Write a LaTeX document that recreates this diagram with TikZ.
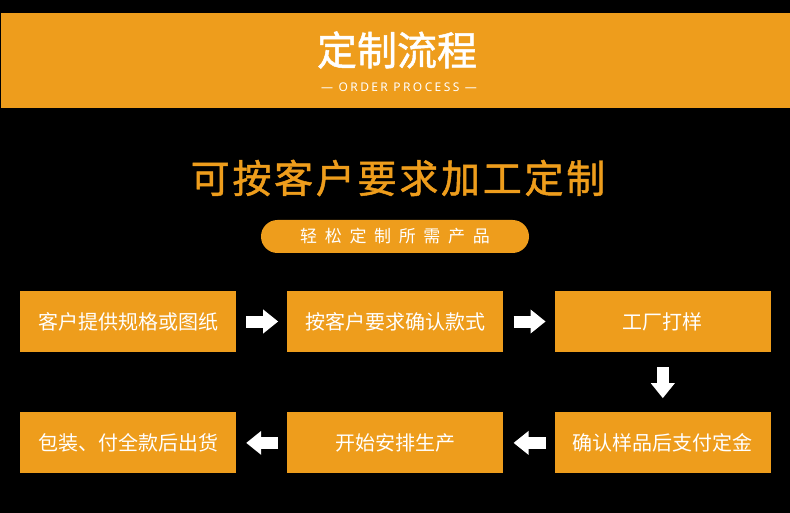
\documentclass[tikz,border=0pt]{standalone}
\usepackage{fontspec}
\newfontfamily\cjk{Noto Sans CJK SC}
\newfontfamily\cjkmed{Noto Sans CJK SC}[FakeBold=1.2]
\newfontfamily\latin{Noto Sans}
\usetikzlibrary{arrows.meta, positioning}
\definecolor{procOrange}{RGB}{238,157,28}

\begin{document}
\begin{tikzpicture}[
    x=1pt, y=-1pt,
    node distance=60pt and 51pt,
    flowbox/.style={rectangle, fill=procOrange, minimum width=216pt, minimum height=61pt, inner sep=0pt, text=white, font=\cjk\fontsize{20}{20}\selectfont},
    flow/.style={white, line width=12pt, -{Triangle[length=15pt,width=23pt]}}
]
% background and header band
\fill[black] (0,0) rectangle (790,513);
\fill[procOrange] (1,13) rectangle (790,108);

\node[text=white, font=\cjkmed\fontsize{40}{40}\selectfont] (head) at (397,50) {定制流程};
\node[text=white, font=\latin\fontsize{12}{12}\selectfont\addfontfeature{LetterSpace=20}] (sub) at (399,87) {— ORDER PROCESS —};

\node[text=procOrange, font=\cjkmed\fontsize{39}{39}\selectfont\addfontfeature{LetterSpace=7}] (slogan) at (398,178) {可按客户要求加工定制};
\node[fill=procOrange, rounded corners=16.5pt, minimum width=268pt, minimum height=33pt, inner sep=0pt, text=white, font=\cjk\fontsize{17}{17}\selectfont\addfontfeature{LetterSpace=45}] (pill) at (395,236.5) {轻松定制所需产品};

% process steps
\node[flowbox] (n1) at (128,321.5) {客户提供规格或图纸};
\node[flowbox, right=of n1] (n2) {按客户要求确认款式};
\node[flowbox, right=of n2] (n3) {工厂打样};
\node[flowbox, below=of n3] (n4) {确认样品后支付定金};
\node[flowbox, left=of n4] (n5) {开始安排生产};
\node[flowbox, left=of n5] (n6) {包装、付全款后出货};

\draw[flow, shorten <=10pt, shorten >=9pt] (n1) -- (n2);
\draw[flow, shorten <=10pt, shorten >=9pt] (n2) -- (n3);
\draw[flow, shorten <=15pt, shorten >=14pt] (n3) -- (n4);
\draw[flow, shorten <=9pt, shorten >=10pt] (n4) -- (n5);
\draw[flow, shorten <=9pt, shorten >=10pt] (n5) -- (n6);
\end{tikzpicture}
\end{document}
